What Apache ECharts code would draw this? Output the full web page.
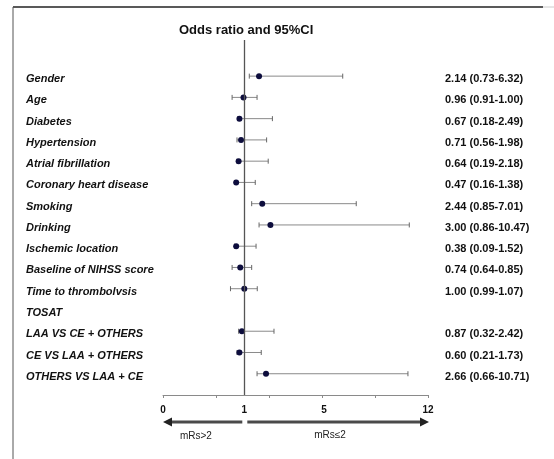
<!DOCTYPE html>
<html>
<head>
<meta charset="utf-8">
<title>Odds ratio and 95%CI</title>
<script src="https://cdn.jsdelivr.net/npm/echarts@6/dist/echarts.min.js"></script>
<style>
html,body{margin:0;padding:0;background:#fff;}
#chart{width:554px;height:459px;}
</style>
</head>
<body>
<div id="chart"></div>
<script>
// 变量名称(从上到下)
var rowNames = ['Gender', 'Age', 'Diabetes', 'Hypertension', 'Atrial fibrillation',
	'Coronary heart disease', 'Smoking', 'Drinking', 'Ischemic location',
	'Baseline of NIHSS score', 'Time to thrombolvsis', 'TOSAT',
	'LAA VS CE + OTHERS', 'CE VS LAA + OTHERS', 'OTHERS VS LAA + CE'];
// 右侧文字
var rowText = ['2.14 (0.73-6.32)', '0.96 (0.91-1.00)', '0.67 (0.18-2.49)', '0.71 (0.56-1.98)',
	'0.64 (0.19-2.18)', '0.47 (0.16-1.38)', '2.44 (0.85-7.01)', '3.00 (0.86-10.47)',
	'0.38 (0.09-1.52)', '0.74 (0.64-0.85)', '1.00 (0.99-1.07)', '',
	'0.87 (0.32-2.42)', '0.60 (0.21-1.73)', '2.66 (0.66-10.71)'];
// 图上画出来的点和区间
var orPoint = [1.74, 0.99, 0.94, 0.96, 0.93, 0.90, 1.90, 2.31, 0.90, 0.95, 1.00, null, 0.97, 0.94, 2.09];
var orLow   = [1.25, 0.85, 0.92, 0.91, 0.91, 0.89, 1.37, 1.74, 0.88, 0.85, 0.83, null, 0.93, 0.91, 1.64];
var orHigh  = [6.26, 1.64, 2.41, 2.12, 2.20, 1.55, 7.17, 10.74, 1.59, 1.37, 1.65, null, 2.49, 1.85, 10.65];
// x轴刻度文字
var tickValues = [0, 1, 5, 12];

(function(){
	var font = "'Liberation Sans', Arial, sans-serif";
	// 分段刻度: 刻度值在轴上的位置
	var tickPos = [0, 1.534, 3.038, 5];
	function toAxis(v){
		for (var i = 0; i < tickValues.length - 1; i++) {
			if (v <= tickValues[i + 1]) {
				return tickPos[i] + (v - tickValues[i]) / (tickValues[i + 1] - tickValues[i]) * (tickPos[i + 1] - tickPos[i]);
			}
		}
		return tickPos[tickPos.length - 1];
	}
	var rows = rowNames.map(function(n, i){ return i; });
	var points = [], bars = [];
	rows.forEach(function(i){
		if (orPoint[i] == null) return;
		points.push([toAxis(orPoint[i]), i]);
		bars.push([toAxis(orLow[i]), toAxis(orHigh[i]), i]);
	});

	var myChart = echarts.init(document.getElementById('chart'));
	var option = {
		animation: false,
		title: {
			text: 'Odds ratio and 95%CI',
			left: 179,
			top: 24,
			padding: 0,
			textStyle: { fontFamily: font, fontSize: 13, fontWeight: 'bold', color: '#111' }
		},
		grid: { left: 163, right: 126, top: 40, bottom: 64 },
		xAxis: {
			type: 'value',
			min: 0,
			max: 5,
			interval: 1,
			splitLine: { show: false },
			axisLine: { onZero: false, lineStyle: { color: '#8a8a8a', width: 1 } },
			axisTick: { show: true, length: 3, customValues: [0, 1, 2, 3, 4, 5], lineStyle: { color: '#8a8a8a' } },
			axisLabel: {
				customValues: tickPos,
				showMinLabel: true,
				showMaxLabel: true,
				margin: 10,
				fontFamily: font,
				fontSize: 10,
				fontWeight: 'bold',
				color: '#111',
				formatter: function(v){
					for (var j = 0; j < tickPos.length; j++) {
						if (Math.abs(tickPos[j] - v) < 1e-6) return String(tickValues[j]);
					}
					return '';
				}
			}
		},
		yAxis: [{
			type: 'value',
			inverse: true,
			min: -1.7,
			max: 15,
			splitLine: { show: false },
			axisLine: { show: false, onZero: false },
			axisTick: { show: false },
			axisLabel: {
				customValues: rows,
				align: 'left',
				margin: 137,
				formatter: function(v){ return rowNames[v] ? '{t|' + rowNames[v] + '}' : ''; },
				rich: {
					t: { fontFamily: font, fontSize: 11, fontWeight: 'bold', fontStyle: 'italic', color: '#111', padding: [6, 0, 0, 0] }
				}
			}
		}, {
			type: 'value',
			position: 'right',
			inverse: true,
			min: -1.7,
			max: 15,
			splitLine: { show: false },
			axisLine: { show: false, onZero: false },
			axisTick: { show: false },
			axisLabel: {
				customValues: rows,
				align: 'left',
				margin: 17,
				formatter: function(v){ return rowText[v] ? '{t|' + rowText[v] + '}' : ''; },
				rich: {
					t: { fontFamily: font, fontSize: 11, fontWeight: 'bold', color: '#111', padding: [6, 0, 0, 0] }
				}
			}
		}],
		series: [{
			// 置信区间
			type: 'custom',
			yAxisIndex: 0,
			silent: true,
			data: bars,
			renderItem: function(params, api){
				var lo = api.coord([api.value(0), api.value(2)]);
				var hi = api.coord([api.value(1), api.value(2)]);
				var c = 2.5;
				return {
					type: 'group',
					children: [{
						type: 'line',
						shape: { x1: lo[0], y1: lo[1], x2: hi[0], y2: hi[1] },
						style: { stroke: '#8a8a8a', lineWidth: 1 }
					}, {
						type: 'line',
						shape: { x1: lo[0], y1: lo[1] - c, x2: lo[0], y2: lo[1] + c },
						style: { stroke: '#666', lineWidth: 1 }
					}, {
						type: 'line',
						shape: { x1: hi[0], y1: hi[1] - c, x2: hi[0], y2: hi[1] + c },
						style: { stroke: '#666', lineWidth: 1 }
					}]
				};
			}
		}, {
			// OR点
			type: 'scatter',
			yAxisIndex: 0,
			symbol: 'circle',
			symbolSize: 6,
			itemStyle: { color: '#0d0d3d', opacity: 1 },
			data: points,
			markLine: {
				silent: true,
				symbol: ['none', 'none'],
				label: { show: false },
				lineStyle: { color: '#555', width: 1.3, type: 'solid' },
				data: [{ xAxis: toAxis(1) }]
			}
		}]
	};
	myChart.setOption(option);

	// 箭头和边框
	var x0 = myChart.convertToPixel({ xAxisIndex: 0 }, 0);
	var x1 = myChart.convertToPixel({ xAxisIndex: 0 }, toAxis(1));
	var x12 = myChart.convertToPixel({ xAxisIndex: 0 }, 5);
	var yAx = myChart.convertToPixel({ yAxisIndex: 0 }, 15);
	var ay = yAx + 27;
	var arrowColor = '#4a4a4a';
	myChart.setOption({
		graphic: [
			{ type: 'line', shape: { x1: 13, y1: 7, x2: 543, y2: 7 }, style: { stroke: '#222', lineWidth: 1.5 } },
			{ type: 'line', shape: { x1: 543, y1: 7, x2: 554, y2: 7 }, style: { stroke: '#ccc', lineWidth: 1 } },
			{ type: 'line', shape: { x1: 13, y1: 7, x2: 13, y2: 459 }, style: { stroke: '#555', lineWidth: 1 } },
			{ type: 'line', shape: { x1: x0 + 8, y1: ay, x2: x1 - 2, y2: ay }, style: { stroke: arrowColor, lineWidth: 3 } },
			{ type: 'polygon', shape: { points: [[x0, ay], [x0 + 9, ay - 4.5], [x0 + 9, ay + 4.5]] }, style: { fill: '#222' } },
			{ type: 'line', shape: { x1: x1 + 3, y1: ay, x2: x12 - 8, y2: ay }, style: { stroke: arrowColor, lineWidth: 3 } },
			{ type: 'polygon', shape: { points: [[x12 + 1, ay], [x12 - 8, ay - 4.5], [x12 - 8, ay + 4.5]] }, style: { fill: '#222' } },
			{ type: 'text', x: myChart.convertToPixel({ xAxisIndex: 0 }, 0.62), y: ay + 14,
				style: { text: 'mRs>2', font: '10px ' + font, fill: '#222', align: 'center', verticalAlign: 'middle' } },
			{ type: 'text', x: myChart.convertToPixel({ xAxisIndex: 0 }, 3.15), y: ay + 13,
				style: { text: 'mRs≤2', font: '10px ' + font, fill: '#222', align: 'center', verticalAlign: 'middle' } }
		]
	});
	window.addEventListener('resize', function(){
		myChart.resize();
	});
})();
</script>
</body>
</html>
